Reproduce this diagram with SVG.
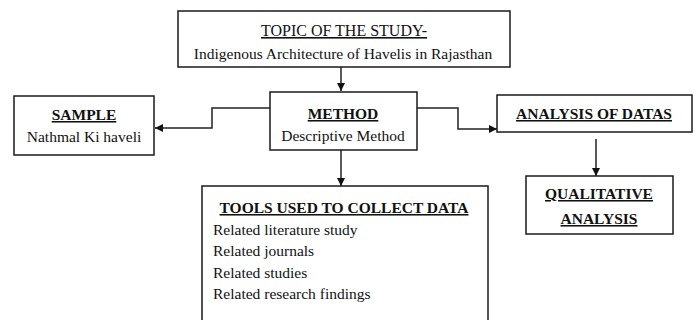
<svg xmlns="http://www.w3.org/2000/svg" width="700" height="320" viewBox="0 0 700 320">
<style>
.box{fill:#fff;stroke:#1a1a1a;stroke-width:1.5}
.t{font-family:"Liberation Serif","Times New Roman",serif;font-size:15.5px;fill:#111}
.h{font-weight:bold;text-decoration:underline}
.u{text-decoration:underline}
.c{text-anchor:middle}
.con{fill:none;stroke:#222;stroke-width:1.5}
</style>
<defs>
<marker id="arr" viewBox="0 0 10 10" refX="10" refY="5" markerWidth="8" markerHeight="8" markerUnits="userSpaceOnUse" orient="auto">
<path d="M0,0 L10,5 L0,10 Z" fill="#111"/>
</marker>
</defs>
<rect width="700" height="320" fill="#fff"/>
<g id="connectors">
<path class="con" d="M341,67 V91" marker-end="url(#arr)"/>
<path class="con" d="M270,108 H212 V128 H155" marker-end="url(#arr)"/>
<path class="con" d="M417,108 H458 V129 H497" marker-end="url(#arr)"/>
<path class="con" d="M596,139 V176" marker-end="url(#arr)"/>
<path class="con" d="M341,150 V186" marker-end="url(#arr)"/>
</g>
<g id="topic">
<rect class="box" x="178" y="11" width="332" height="56"/>
<text class="t u c" x="344" y="36" style="font-size:16px">TOPIC OF THE STUDY-</text>
<text class="t c" x="343" y="59">Indigenous Architecture of Havelis in Rajasthan</text>
</g>
<g id="sample">
<rect class="box" x="14" y="96" width="140" height="59"/>
<text class="t h c" x="84" y="120">SAMPLE</text>
<text class="t c" x="84" y="142">Nathmal Ki haveli</text>
</g>
<g id="method">
<rect class="box" x="270" y="92" width="147" height="58"/>
<text class="t h c" x="343" y="119">METHOD</text>
<text class="t c" x="343" y="141">Descriptive Method</text>
</g>
<g id="analysis">
<rect class="box" x="497" y="95" width="195" height="37"/>
<text class="t h c" x="594" y="119">ANALYSIS  OF DATAS</text>
</g>
<g id="qualitative">
<rect class="box" x="526" y="176" width="147" height="58"/>
<text class="t h c" x="599" y="199">QUALITATIVE</text>
<text class="t h c" x="599" y="224">ANALYSIS</text>
</g>
<g id="tools">
<rect class="box" x="202" y="186" width="286" height="150"/>
<text class="t h c" x="344" y="213">TOOLS USED TO COLLECT DATA</text>
<text class="t" x="213" y="235">Related literature study</text>
<text class="t" x="213" y="256">Related journals</text>
<text class="t" x="213" y="278">Related studies</text>
<text class="t" x="213" y="299">Related research findings</text>
</g>
</svg>
